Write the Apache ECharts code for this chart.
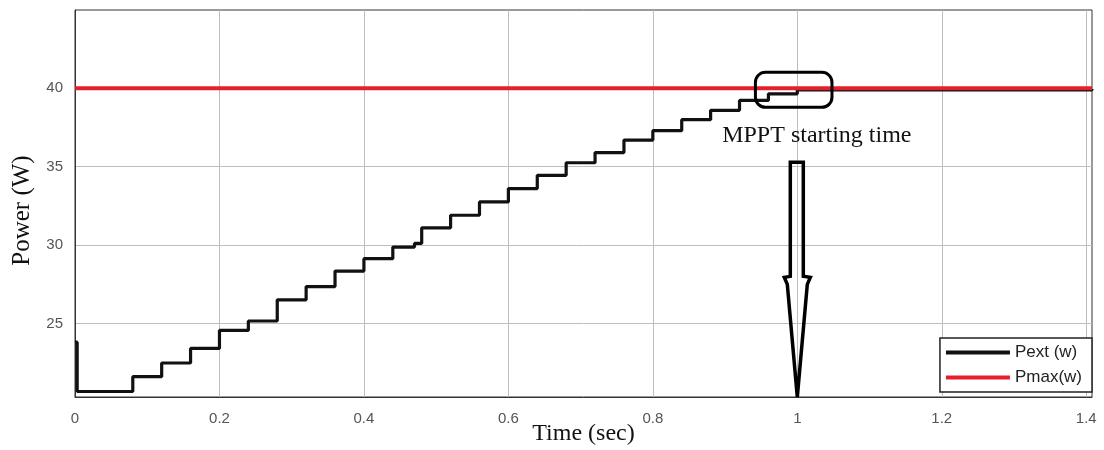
<!DOCTYPE html>
<html>
<head>
<meta charset="utf-8">
<script src="https://cdn.jsdelivr.net/npm/echarts@6/dist/echarts.min.js"></script>
<style>
  html, body { margin: 0; padding: 0; background: #fff; }
  #chart { width: 1104px; height: 450px; }
</style>
</head>
<body>
<div id="chart"></div>
<script>
// Extracted power (step-wise MPPT tracking), times in seconds, power in watts
const stepTimes  = [0, 0.003, 0.08, 0.12, 0.16, 0.20, 0.24, 0.28, 0.32, 0.36, 0.40, 0.44, 0.47, 0.48,
                    0.52, 0.56, 0.60, 0.64, 0.68, 0.72, 0.76, 0.80, 0.84, 0.88, 0.92, 0.96, 1.00, 1.408];
const pextValues = [23.8, 20.65, 21.6, 22.47, 23.4, 24.55, 25.15, 26.5, 27.35, 28.34, 29.13, 29.87, 30.1, 31.1,
                    31.9, 32.75, 33.6, 34.45, 35.25, 35.9, 36.7, 37.3, 38.0, 38.6, 39.23, 39.65, 39.9, 39.95];

// Maximum available power
const pmaxTimes  = [0, 1.408];
const pmaxValues = [40, 40];

// Axis ticks
const xTicks = [0, 0.2, 0.4, 0.6, 0.8, 1, 1.2, 1.4];
const yTicks = [25, 30, 35, 40];

const seriesNames = ['Pext (w)', 'Pmax(w)'];

const pextData = stepTimes.map((t, i) => [t, pextValues[i]]);
const pmaxData = pmaxTimes.map((t, i) => [t, pmaxValues[i]]);

const chart = echarts.init(document.getElementById('chart'), null, { renderer: 'canvas' });

const serif = '"Liberation Serif", "DejaVu Serif", serif';
const sans = '"Liberation Sans", Arial, sans-serif';

chart.setOption({
  animation: false,
  backgroundColor: '#fff',
  grid: {
    left: 75, top: 10, width: 1017, height: 387,
    outerBoundsMode: 'none',
    containLabel: false,
    show: true, borderColor: '#333', borderWidth: 1, backgroundColor: '#fff'
  },
  legend: {
    data: seriesNames,
    orient: 'vertical',
    right: 12, top: 338,
    padding: [6, 10, 6, 6],
    itemGap: 8,
    itemWidth: 64, itemHeight: 4,
    icon: 'rect',
    backgroundColor: '#fff',
    borderColor: '#222', borderWidth: 1.5, borderRadius: 0,
    textStyle: { fontFamily: sans, fontSize: 17, color: '#222' }
  },
  xAxis: {
    type: 'value',
    min: 0, max: 1.408,
    name: 'Time (sec)',
    nameLocation: 'middle',
    nameGap: 25,
    nameMoveOverlap: false,
    nameTextStyle: { fontFamily: serif, fontSize: 24, color: '#111' },
    axisLine: { show: true, lineStyle: { color: '#333', width: 1 } },
    axisTick: { show: false, customValues: xTicks },
    axisLabel: { customValues: xTicks, fontFamily: sans, fontSize: 15, color: '#555', margin: 14 },
    splitLine: { show: true, lineStyle: { color: '#bdbdbd', width: 1 } }
  },
  yAxis: {
    type: 'value',
    min: 20.3, max: 45,
    name: 'Power (W)',
    nameLocation: 'middle',
    nameGap: 40,
    nameRotate: 90,
    nameMoveOverlap: false,
    nameTextStyle: { fontFamily: serif, fontSize: 25, color: '#111', padding: [0, 14, 0, 0] },
    axisLine: { show: true, lineStyle: { color: '#333', width: 1 } },
    axisTick: { show: false, customValues: yTicks },
    axisLabel: { customValues: yTicks, fontFamily: sans, fontSize: 15, color: '#555', margin: 12 },
    splitLine: { show: true, lineStyle: { color: '#bdbdbd', width: 1 } }
  },
  series: [
    {
      name: seriesNames[0],
      type: 'line',
      step: 'end',
      data: pextData,
      showSymbol: false,
      color: '#111',
      lineStyle: { color: '#111', width: 3.2 },
      z: 2
    },
    {
      name: seriesNames[1],
      type: 'line',
      data: pmaxData,
      showSymbol: false,
      color: '#e4202a',
      lineStyle: { color: '#e4202a', width: 4 },
      z: 3
    }
  ]
});

// Annotation: MPPT start marker, label and pointer arrow, placed from data coordinates
function px(t, v) { return chart.convertToPixel({ gridIndex: 0 }, [t, v]); }

const boxTL = px(0.942, 41.02);
const boxBR = px(1.048, 38.79);
const labelPos = px(0.896, 36.95);
const arrowTop = px(1.0, 35.28);
const arrowHead = px(1.0, 28.0);
const arrowTip = px(1.0, 20.3);

const cx = arrowTop[0];
const arrowPoints = [
  [cx - 7, arrowTop[1]],
  [cx + 6, arrowTop[1]],
  [cx + 6, arrowHead[1]],
  [cx + 13, arrowHead[1] + 1],
  [cx + 10, arrowHead[1] + 8],
  [cx, arrowTip[1]],
  [cx - 10, arrowHead[1] + 8],
  [cx - 13, arrowHead[1] + 1],
  [cx - 7, arrowHead[1]]
];

chart.setOption({
  graphic: [
    {
      type: 'rect',
      shape: { x: boxTL[0], y: boxTL[1], width: boxBR[0] - boxTL[0], height: boxBR[1] - boxTL[1], r: 10 },
      style: { fill: 'none', stroke: '#000', lineWidth: 3 },
      z: 100
    },
    {
      type: 'text',
      x: labelPos[0], y: labelPos[1],
      style: {
        text: 'MPPT starting time',
        font: '24px ' + serif,
        fill: '#111',
        verticalAlign: 'middle'
      },
      z: 100
    },
    {
      type: 'polygon',
      shape: { points: arrowPoints },
      style: { fill: 'none', stroke: '#000', lineWidth: 3.5, lineJoin: 'miter' },
      z: 100
    }
  ]
});
</script>
</body>
</html>
